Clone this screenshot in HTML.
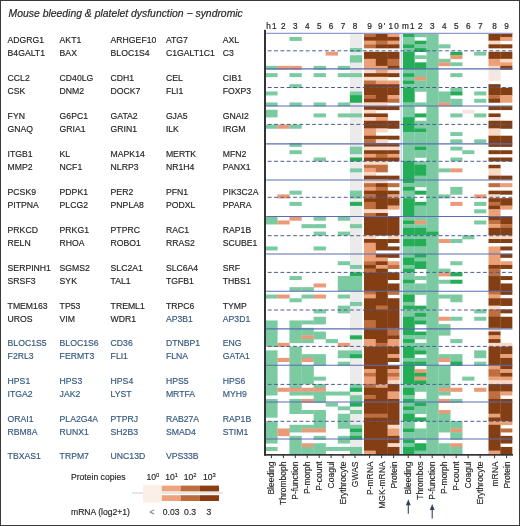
<!DOCTYPE html>
<html><head><meta charset="utf-8"><style>html,body{margin:0;padding:0;background:#fff;width:520px;height:526px;overflow:hidden}body{position:relative;font-family:"Liberation Sans",sans-serif}</style></head>
<body><svg xmlns="http://www.w3.org/2000/svg" width="520" height="526" viewBox="0 0 520 526" style="position:absolute;left:0;top:0;will-change:transform">
<rect x="0" y="0" width="520" height="526" fill="#fff"/>
<rect x="349.96" y="33.40" width="12.08" height="420.60" fill="#ebebeb"/><rect x="265.30" y="65.85" width="12.28" height="3.96" fill="#7bcaa2"/><rect x="265.30" y="73.17" width="12.28" height="3.96" fill="#7bcaa2"/><rect x="265.30" y="91.47" width="12.28" height="3.96" fill="#7bcaa2"/><rect x="265.30" y="102.45" width="12.28" height="3.96" fill="#7bcaa2"/><rect x="265.30" y="109.77" width="12.28" height="7.62" fill="#7bcaa2"/><rect x="265.30" y="124.60" width="12.28" height="4.15" fill="#7bcaa2"/><rect x="265.30" y="216.73" width="12.28" height="7.73" fill="#7bcaa2"/><rect x="265.30" y="246.45" width="12.28" height="4.00" fill="#7bcaa2"/><rect x="265.30" y="294.55" width="12.28" height="4.00" fill="#7bcaa2"/><rect x="265.30" y="320.45" width="12.28" height="26.47" fill="#7bcaa2"/><rect x="265.30" y="350.38" width="12.28" height="45.14" fill="#7bcaa2"/><rect x="265.30" y="398.95" width="12.28" height="18.75" fill="#7bcaa2"/><rect x="265.30" y="421.09" width="12.28" height="22.46" fill="#7bcaa2"/><rect x="265.30" y="446.95" width="12.28" height="4.00" fill="#7bcaa2"/><rect x="277.38" y="65.85" width="12.28" height="3.96" fill="#ea9a78"/><rect x="277.38" y="124.60" width="12.28" height="4.15" fill="#ea9a78"/><rect x="277.38" y="194.40" width="12.28" height="4.05" fill="#ea9a78"/><rect x="277.38" y="220.44" width="12.28" height="4.02" fill="#ea9a78"/><rect x="277.38" y="294.55" width="12.28" height="4.00" fill="#ea9a78"/><rect x="277.38" y="342.85" width="12.28" height="4.07" fill="#ea9a78"/><rect x="277.38" y="357.92" width="12.28" height="4.07" fill="#ea9a78"/><rect x="277.38" y="387.78" width="12.28" height="4.02" fill="#ea9a78"/><rect x="277.38" y="428.47" width="12.28" height="7.68" fill="#ea9a78"/><rect x="289.46" y="36.95" width="12.28" height="4.00" fill="#7bcaa2"/><rect x="289.46" y="65.85" width="12.28" height="3.96" fill="#ea9a78"/><rect x="289.46" y="73.17" width="12.28" height="3.96" fill="#7bcaa2"/><rect x="289.46" y="84.15" width="12.28" height="3.96" fill="#7bcaa2"/><rect x="289.46" y="102.45" width="12.28" height="3.96" fill="#7bcaa2"/><rect x="289.46" y="124.60" width="12.28" height="4.15" fill="#7bcaa2"/><rect x="289.46" y="142.97" width="12.28" height="3.93" fill="#7bcaa2"/><rect x="289.46" y="150.23" width="12.28" height="3.93" fill="#7bcaa2"/><rect x="289.46" y="190.65" width="12.28" height="4.05" fill="#7bcaa2"/><rect x="289.46" y="201.87" width="12.28" height="4.02" fill="#7bcaa2"/><rect x="289.46" y="216.73" width="12.28" height="4.02" fill="#ea9a78"/><rect x="289.46" y="276.05" width="12.28" height="4.00" fill="#7bcaa2"/><rect x="289.46" y="287.15" width="12.28" height="4.00" fill="#7bcaa2"/><rect x="289.46" y="298.25" width="12.28" height="4.00" fill="#7bcaa2"/><rect x="289.46" y="320.45" width="12.28" height="22.70" fill="#7bcaa2"/><rect x="289.46" y="346.62" width="12.28" height="41.47" fill="#7bcaa2"/><rect x="289.46" y="387.78" width="12.28" height="4.02" fill="#ea9a78"/><rect x="289.46" y="391.51" width="12.28" height="4.02" fill="#7bcaa2"/><rect x="289.46" y="398.95" width="12.28" height="15.06" fill="#7bcaa2"/><rect x="289.46" y="424.78" width="12.28" height="7.68" fill="#7bcaa2"/><rect x="289.46" y="435.85" width="12.28" height="18.80" fill="#7bcaa2"/><rect x="301.54" y="224.16" width="12.28" height="4.02" fill="#7bcaa2"/><rect x="301.54" y="287.15" width="12.28" height="4.00" fill="#7bcaa2"/><rect x="301.54" y="294.55" width="12.28" height="4.00" fill="#7bcaa2"/><rect x="301.54" y="320.45" width="12.28" height="4.00" fill="#7bcaa2"/><rect x="301.54" y="327.85" width="12.28" height="7.77" fill="#7bcaa2"/><rect x="301.54" y="335.32" width="12.28" height="4.07" fill="#ea9a78"/><rect x="301.54" y="339.08" width="12.28" height="4.07" fill="#7bcaa2"/><rect x="301.54" y="354.15" width="12.28" height="4.07" fill="#7bcaa2"/><rect x="301.54" y="357.92" width="12.28" height="4.07" fill="#ea9a78"/><rect x="301.54" y="365.45" width="12.28" height="18.91" fill="#7bcaa2"/><rect x="301.54" y="387.78" width="12.28" height="4.02" fill="#ea9a78"/><rect x="301.54" y="391.51" width="12.28" height="4.02" fill="#7bcaa2"/><rect x="301.54" y="398.95" width="12.28" height="3.99" fill="#ea9a78"/><rect x="301.54" y="410.02" width="12.28" height="3.99" fill="#7bcaa2"/><rect x="301.54" y="424.78" width="12.28" height="3.99" fill="#7bcaa2"/><rect x="301.54" y="428.47" width="12.28" height="3.99" fill="#ea9a78"/><rect x="301.54" y="443.25" width="12.28" height="4.00" fill="#ea9a78"/><rect x="301.54" y="446.95" width="12.28" height="7.70" fill="#7bcaa2"/><rect x="313.62" y="65.85" width="12.28" height="3.96" fill="#7bcaa2"/><rect x="313.62" y="73.17" width="12.28" height="3.96" fill="#7bcaa2"/><rect x="313.62" y="102.45" width="12.28" height="3.96" fill="#7bcaa2"/><rect x="313.62" y="113.43" width="12.28" height="3.96" fill="#7bcaa2"/><rect x="313.62" y="157.50" width="12.28" height="3.93" fill="#7bcaa2"/><rect x="313.62" y="216.73" width="12.28" height="4.02" fill="#7bcaa2"/><rect x="313.62" y="224.16" width="12.28" height="4.02" fill="#7bcaa2"/><rect x="313.62" y="231.59" width="12.28" height="4.02" fill="#7bcaa2"/><rect x="313.62" y="246.45" width="12.28" height="4.00" fill="#7bcaa2"/><rect x="313.62" y="283.45" width="12.28" height="4.00" fill="#ea9a78"/><rect x="313.62" y="294.55" width="12.28" height="4.00" fill="#ea9a78"/><rect x="313.62" y="309.35" width="12.28" height="4.00" fill="#7bcaa2"/><rect x="313.62" y="316.75" width="12.28" height="7.70" fill="#7bcaa2"/><rect x="313.62" y="331.55" width="12.28" height="7.83" fill="#7bcaa2"/><rect x="313.62" y="354.15" width="12.28" height="11.60" fill="#7bcaa2"/><rect x="313.62" y="376.62" width="12.28" height="4.02" fill="#7bcaa2"/><rect x="313.62" y="384.06" width="12.28" height="4.02" fill="#7bcaa2"/><rect x="313.62" y="387.78" width="12.28" height="4.02" fill="#ea9a78"/><rect x="313.62" y="391.51" width="12.28" height="11.43" fill="#7bcaa2"/><rect x="313.62" y="410.02" width="12.28" height="18.75" fill="#7bcaa2"/><rect x="313.62" y="428.47" width="12.28" height="3.99" fill="#ea9a78"/><rect x="313.62" y="435.85" width="12.28" height="4.00" fill="#7bcaa2"/><rect x="313.62" y="443.25" width="12.28" height="11.40" fill="#7bcaa2"/><rect x="325.70" y="51.75" width="12.28" height="3.82" fill="#ea9a78"/><rect x="325.70" y="339.08" width="12.28" height="4.07" fill="#7bcaa2"/><rect x="325.70" y="391.51" width="12.28" height="4.02" fill="#7bcaa2"/><rect x="325.70" y="402.64" width="12.28" height="3.99" fill="#7bcaa2"/><rect x="325.70" y="446.95" width="12.28" height="4.00" fill="#7bcaa2"/><rect x="337.78" y="65.85" width="12.28" height="3.96" fill="#7bcaa2"/><rect x="337.78" y="73.17" width="12.28" height="3.96" fill="#7bcaa2"/><rect x="337.78" y="102.45" width="12.28" height="3.96" fill="#7bcaa2"/><rect x="337.78" y="113.43" width="12.28" height="3.96" fill="#7bcaa2"/><rect x="337.78" y="216.73" width="12.28" height="4.02" fill="#7bcaa2"/><rect x="337.78" y="231.59" width="12.28" height="4.02" fill="#7bcaa2"/><rect x="337.78" y="261.25" width="12.28" height="4.00" fill="#7bcaa2"/><rect x="337.78" y="276.05" width="12.28" height="15.10" fill="#7bcaa2"/><rect x="337.78" y="294.55" width="12.28" height="4.00" fill="#7bcaa2"/><rect x="337.78" y="305.65" width="12.28" height="7.70" fill="#7bcaa2"/><rect x="337.78" y="342.85" width="12.28" height="4.07" fill="#ea9a78"/><rect x="337.78" y="350.38" width="12.28" height="7.83" fill="#7bcaa2"/><rect x="337.78" y="361.68" width="12.28" height="4.07" fill="#7bcaa2"/><rect x="337.78" y="391.51" width="12.28" height="4.02" fill="#7bcaa2"/><rect x="337.78" y="406.33" width="12.28" height="3.99" fill="#7bcaa2"/><rect x="337.78" y="413.71" width="12.28" height="15.06" fill="#7bcaa2"/><rect x="337.78" y="435.85" width="12.28" height="7.70" fill="#7bcaa2"/><rect x="337.78" y="446.95" width="12.28" height="4.00" fill="#7bcaa2"/><rect x="349.86" y="48.05" width="12.28" height="4.00" fill="#7bcaa2"/><rect x="349.86" y="55.27" width="12.28" height="7.35" fill="#7bcaa2"/><rect x="349.86" y="73.17" width="12.28" height="3.96" fill="#7bcaa2"/><rect x="349.86" y="91.47" width="12.28" height="3.96" fill="#7bcaa2"/><rect x="349.86" y="95.13" width="12.28" height="7.62" fill="#24ad57"/><rect x="349.86" y="113.43" width="12.28" height="3.96" fill="#7bcaa2"/><rect x="349.86" y="146.60" width="12.28" height="7.56" fill="#7bcaa2"/><rect x="349.86" y="157.50" width="12.28" height="3.93" fill="#24ad57"/><rect x="349.86" y="168.39" width="12.28" height="3.93" fill="#7bcaa2"/><rect x="349.86" y="190.65" width="12.28" height="7.80" fill="#7bcaa2"/><rect x="349.86" y="201.87" width="12.28" height="4.02" fill="#24ad57"/><rect x="349.86" y="224.16" width="12.28" height="4.02" fill="#7bcaa2"/><rect x="349.86" y="264.95" width="12.28" height="4.00" fill="#7bcaa2"/><rect x="349.86" y="272.35" width="12.28" height="4.00" fill="#24ad57"/><rect x="349.86" y="276.05" width="12.28" height="15.10" fill="#7bcaa2"/><rect x="349.86" y="301.95" width="12.28" height="4.00" fill="#7bcaa2"/><rect x="349.86" y="335.32" width="12.28" height="4.07" fill="#24ad57"/><rect x="349.86" y="350.38" width="12.28" height="4.07" fill="#7bcaa2"/><rect x="349.86" y="354.15" width="12.28" height="4.07" fill="#24ad57"/><rect x="349.86" y="384.06" width="12.28" height="4.02" fill="#7bcaa2"/><rect x="349.86" y="387.78" width="12.28" height="4.02" fill="#24ad57"/><rect x="349.86" y="395.23" width="12.28" height="7.71" fill="#7bcaa2"/><rect x="349.86" y="402.64" width="12.28" height="3.99" fill="#24ad57"/><rect x="349.86" y="410.02" width="12.28" height="3.99" fill="#7bcaa2"/><rect x="349.86" y="424.78" width="12.28" height="3.99" fill="#7bcaa2"/><rect x="349.86" y="428.47" width="12.28" height="3.99" fill="#24ad57"/><rect x="349.86" y="432.16" width="12.28" height="3.99" fill="#7bcaa2"/><rect x="349.86" y="435.85" width="12.28" height="4.00" fill="#24ad57"/><rect x="349.86" y="446.95" width="12.28" height="7.70" fill="#7bcaa2"/><rect x="364.00" y="33.25" width="12.03" height="4.00" fill="#bf6e3f"/><rect x="364.00" y="36.95" width="12.03" height="4.00" fill="#833e13"/><rect x="364.00" y="40.65" width="12.03" height="4.00" fill="#eca078"/><rect x="364.00" y="44.35" width="12.03" height="4.00" fill="#bf6e3f"/><rect x="364.00" y="51.75" width="12.03" height="7.35" fill="#833e13"/><rect x="364.00" y="58.80" width="12.03" height="11.01" fill="#eca078"/><rect x="364.00" y="69.51" width="12.03" height="3.96" fill="#f9d9c6"/><rect x="364.00" y="73.17" width="12.03" height="3.96" fill="#833e13"/><rect x="364.00" y="76.83" width="12.03" height="3.96" fill="#f9d9c6"/><rect x="364.00" y="80.49" width="12.03" height="3.96" fill="#bf6e3f"/><rect x="364.00" y="84.15" width="12.03" height="11.28" fill="#833e13"/><rect x="364.00" y="95.13" width="12.03" height="3.96" fill="#bf6e3f"/><rect x="364.00" y="98.79" width="12.03" height="3.96" fill="#833e13"/><rect x="364.00" y="102.45" width="12.03" height="3.96" fill="#f9d9c6"/><rect x="364.00" y="106.11" width="12.03" height="3.96" fill="#833e13"/><rect x="364.00" y="109.77" width="12.03" height="3.96" fill="#f9d9c6"/><rect x="364.00" y="113.43" width="12.03" height="3.96" fill="#833e13"/><rect x="364.00" y="117.09" width="12.03" height="3.96" fill="#f9d9c6"/><rect x="364.00" y="120.75" width="12.03" height="8.00" fill="#833e13"/><rect x="364.00" y="128.45" width="12.03" height="7.56" fill="#eca078"/><rect x="364.00" y="135.71" width="12.03" height="3.93" fill="#833e13"/><rect x="364.00" y="139.34" width="12.03" height="3.93" fill="#bf6e3f"/><rect x="364.00" y="142.97" width="12.03" height="3.93" fill="#833e13"/><rect x="364.00" y="146.60" width="12.03" height="3.93" fill="#f9d9c6"/><rect x="364.00" y="150.23" width="12.03" height="3.93" fill="#833e13"/><rect x="364.00" y="153.87" width="12.03" height="3.93" fill="#eca078"/><rect x="364.00" y="157.50" width="12.03" height="3.93" fill="#833e13"/><rect x="364.00" y="161.13" width="12.03" height="3.93" fill="#f9d9c6"/><rect x="364.00" y="164.76" width="12.03" height="3.93" fill="#bf6e3f"/><rect x="364.00" y="168.39" width="12.03" height="3.93" fill="#eca078"/><rect x="364.00" y="172.02" width="12.03" height="3.93" fill="#f9d9c6"/><rect x="364.00" y="175.65" width="12.03" height="4.05" fill="#833e13"/><rect x="364.00" y="179.40" width="12.03" height="4.05" fill="#f9d9c6"/><rect x="364.00" y="183.15" width="12.03" height="4.05" fill="#bf6e3f"/><rect x="364.00" y="186.90" width="12.03" height="4.05" fill="#eca078"/><rect x="364.00" y="190.65" width="12.03" height="4.05" fill="#833e13"/><rect x="364.00" y="194.40" width="12.03" height="4.05" fill="#bf6e3f"/><rect x="364.00" y="198.15" width="12.03" height="4.02" fill="#833e13"/><rect x="364.00" y="201.87" width="12.03" height="7.73" fill="#bf6e3f"/><rect x="364.00" y="209.30" width="12.03" height="4.02" fill="#f9d9c6"/><rect x="364.00" y="213.01" width="12.03" height="4.02" fill="#bf6e3f"/><rect x="364.00" y="216.73" width="12.03" height="18.88" fill="#833e13"/><rect x="364.00" y="235.30" width="12.03" height="4.02" fill="#f9d9c6"/><rect x="364.00" y="239.02" width="12.03" height="4.02" fill="#833e13"/><rect x="364.00" y="242.73" width="12.03" height="18.82" fill="#eca078"/><rect x="364.00" y="261.25" width="12.03" height="4.00" fill="#bf6e3f"/><rect x="364.00" y="264.95" width="12.03" height="4.00" fill="#833e13"/><rect x="364.00" y="268.65" width="12.03" height="4.00" fill="#bf6e3f"/><rect x="364.00" y="272.35" width="12.03" height="18.80" fill="#833e13"/><rect x="364.00" y="290.85" width="12.03" height="4.00" fill="#bf6e3f"/><rect x="364.00" y="294.55" width="12.03" height="4.00" fill="#eca078"/><rect x="364.00" y="298.25" width="12.03" height="22.50" fill="#833e13"/><rect x="364.00" y="320.45" width="12.03" height="7.70" fill="#bf6e3f"/><rect x="364.00" y="327.85" width="12.03" height="11.53" fill="#833e13"/><rect x="364.00" y="339.08" width="12.03" height="7.83" fill="#eca078"/><rect x="364.00" y="346.62" width="12.03" height="22.86" fill="#833e13"/><rect x="364.00" y="369.17" width="12.03" height="4.02" fill="#eca078"/><rect x="364.00" y="372.89" width="12.03" height="4.02" fill="#bf6e3f"/><rect x="364.00" y="376.62" width="12.03" height="7.74" fill="#eca078"/><rect x="364.00" y="384.06" width="12.03" height="4.02" fill="#bf6e3f"/><rect x="364.00" y="387.78" width="12.03" height="7.74" fill="#833e13"/><rect x="364.00" y="395.23" width="12.03" height="4.02" fill="#bf6e3f"/><rect x="364.00" y="398.95" width="12.03" height="15.06" fill="#833e13"/><rect x="364.00" y="413.71" width="12.03" height="3.99" fill="#bf6e3f"/><rect x="364.00" y="417.40" width="12.03" height="33.55" fill="#833e13"/><rect x="364.00" y="450.65" width="12.03" height="4.00" fill="#eca078"/><rect x="375.83" y="33.25" width="12.03" height="7.70" fill="#833e13"/><rect x="375.83" y="40.65" width="12.03" height="4.00" fill="#bf6e3f"/><rect x="375.83" y="44.35" width="12.03" height="4.00" fill="#833e13"/><rect x="375.83" y="51.75" width="12.03" height="14.40" fill="#833e13"/><rect x="375.83" y="65.85" width="12.03" height="7.62" fill="#eca078"/><rect x="375.83" y="73.17" width="12.03" height="3.96" fill="#833e13"/><rect x="375.83" y="76.83" width="12.03" height="3.96" fill="#f9d9c6"/><rect x="375.83" y="80.49" width="12.03" height="3.96" fill="#eca078"/><rect x="375.83" y="84.15" width="12.03" height="18.60" fill="#833e13"/><rect x="375.83" y="102.45" width="12.03" height="3.96" fill="#f9d9c6"/><rect x="375.83" y="106.11" width="12.03" height="3.96" fill="#833e13"/><rect x="375.83" y="113.43" width="12.03" height="3.96" fill="#833e13"/><rect x="375.83" y="117.09" width="12.03" height="3.96" fill="#eca078"/><rect x="375.83" y="120.75" width="12.03" height="8.00" fill="#833e13"/><rect x="375.83" y="128.45" width="12.03" height="3.93" fill="#f9d9c6"/><rect x="375.83" y="135.71" width="12.03" height="3.93" fill="#833e13"/><rect x="375.83" y="139.34" width="12.03" height="3.93" fill="#f9d9c6"/><rect x="375.83" y="142.97" width="12.03" height="3.93" fill="#833e13"/><rect x="375.83" y="146.60" width="12.03" height="3.93" fill="#f9d9c6"/><rect x="375.83" y="150.23" width="12.03" height="3.93" fill="#833e13"/><rect x="375.83" y="153.87" width="12.03" height="3.93" fill="#bf6e3f"/><rect x="375.83" y="157.50" width="12.03" height="3.93" fill="#833e13"/><rect x="375.83" y="161.13" width="12.03" height="3.93" fill="#f9d9c6"/><rect x="375.83" y="164.76" width="12.03" height="7.56" fill="#bf6e3f"/><rect x="375.83" y="175.65" width="12.03" height="4.05" fill="#833e13"/><rect x="375.83" y="179.40" width="12.03" height="4.05" fill="#f9d9c6"/><rect x="375.83" y="183.15" width="12.03" height="4.05" fill="#833e13"/><rect x="375.83" y="186.90" width="12.03" height="4.05" fill="#bf6e3f"/><rect x="375.83" y="190.65" width="12.03" height="18.95" fill="#833e13"/><rect x="375.83" y="209.30" width="12.03" height="4.02" fill="#f9d9c6"/><rect x="375.83" y="213.01" width="12.03" height="22.59" fill="#833e13"/><rect x="375.83" y="239.02" width="12.03" height="11.43" fill="#833e13"/><rect x="375.83" y="253.85" width="12.03" height="4.00" fill="#833e13"/><rect x="375.83" y="257.55" width="12.03" height="4.00" fill="#eca078"/><rect x="375.83" y="261.25" width="12.03" height="4.00" fill="#833e13"/><rect x="375.83" y="264.95" width="12.03" height="4.00" fill="#eca078"/><rect x="375.83" y="268.65" width="12.03" height="37.30" fill="#833e13"/><rect x="375.83" y="305.65" width="12.03" height="4.00" fill="#bf6e3f"/><rect x="375.83" y="309.35" width="12.03" height="33.80" fill="#833e13"/><rect x="375.83" y="342.85" width="12.03" height="4.07" fill="#bf6e3f"/><rect x="375.83" y="346.62" width="12.03" height="37.74" fill="#833e13"/><rect x="375.83" y="384.06" width="12.03" height="4.02" fill="#eca078"/><rect x="375.83" y="387.78" width="12.03" height="26.23" fill="#833e13"/><rect x="375.83" y="413.71" width="12.03" height="3.99" fill="#bf6e3f"/><rect x="375.83" y="417.40" width="12.03" height="37.25" fill="#833e13"/><rect x="387.66" y="33.25" width="12.03" height="4.00" fill="#eca078"/><rect x="387.66" y="36.95" width="12.03" height="4.00" fill="#833e13"/><rect x="387.66" y="40.65" width="12.03" height="4.00" fill="#eca078"/><rect x="387.66" y="44.35" width="12.03" height="4.00" fill="#833e13"/><rect x="387.66" y="51.75" width="12.03" height="7.35" fill="#833e13"/><rect x="387.66" y="58.80" width="12.03" height="7.35" fill="#bf6e3f"/><rect x="387.66" y="65.85" width="12.03" height="3.96" fill="#833e13"/><rect x="387.66" y="69.51" width="12.03" height="3.96" fill="#f9d9c6"/><rect x="387.66" y="73.17" width="12.03" height="3.96" fill="#833e13"/><rect x="387.66" y="80.49" width="12.03" height="3.96" fill="#eca078"/><rect x="387.66" y="84.15" width="12.03" height="11.28" fill="#833e13"/><rect x="387.66" y="95.13" width="12.03" height="3.96" fill="#eca078"/><rect x="387.66" y="98.79" width="12.03" height="3.96" fill="#bf6e3f"/><rect x="387.66" y="106.11" width="12.03" height="3.96" fill="#833e13"/><rect x="387.66" y="120.75" width="12.03" height="8.00" fill="#833e13"/><rect x="387.66" y="135.71" width="12.03" height="3.93" fill="#833e13"/><rect x="387.66" y="142.97" width="12.03" height="3.93" fill="#833e13"/><rect x="387.66" y="146.60" width="12.03" height="3.93" fill="#f9d9c6"/><rect x="387.66" y="150.23" width="12.03" height="3.93" fill="#833e13"/><rect x="387.66" y="153.87" width="12.03" height="3.93" fill="#eca078"/><rect x="387.66" y="157.50" width="12.03" height="3.93" fill="#833e13"/><rect x="387.66" y="175.65" width="12.03" height="4.05" fill="#833e13"/><rect x="387.66" y="183.15" width="12.03" height="4.05" fill="#bf6e3f"/><rect x="387.66" y="190.65" width="12.03" height="4.05" fill="#833e13"/><rect x="387.66" y="194.40" width="12.03" height="4.05" fill="#eca078"/><rect x="387.66" y="198.15" width="12.03" height="7.73" fill="#833e13"/><rect x="387.66" y="205.58" width="12.03" height="4.02" fill="#eca078"/><rect x="387.66" y="216.73" width="12.03" height="18.88" fill="#833e13"/><rect x="387.66" y="235.30" width="12.03" height="4.02" fill="#f9d9c6"/><rect x="387.66" y="239.02" width="12.03" height="4.02" fill="#833e13"/><rect x="387.66" y="246.45" width="12.03" height="4.00" fill="#833e13"/><rect x="387.66" y="253.85" width="12.03" height="4.00" fill="#833e13"/><rect x="387.66" y="261.25" width="12.03" height="4.00" fill="#eca078"/><rect x="387.66" y="264.95" width="12.03" height="4.00" fill="#bf6e3f"/><rect x="387.66" y="272.35" width="12.03" height="7.70" fill="#833e13"/><rect x="387.66" y="283.45" width="12.03" height="7.70" fill="#833e13"/><rect x="387.66" y="290.85" width="12.03" height="4.00" fill="#bf6e3f"/><rect x="387.66" y="298.25" width="12.03" height="29.90" fill="#833e13"/><rect x="387.66" y="327.85" width="12.03" height="7.77" fill="#bf6e3f"/><rect x="387.66" y="335.32" width="12.03" height="4.07" fill="#833e13"/><rect x="387.66" y="339.08" width="12.03" height="7.83" fill="#eca078"/><rect x="387.66" y="346.62" width="12.03" height="7.83" fill="#833e13"/><rect x="387.66" y="354.15" width="12.03" height="4.07" fill="#eca078"/><rect x="387.66" y="357.92" width="12.03" height="4.07" fill="#833e13"/><rect x="387.66" y="365.45" width="12.03" height="4.02" fill="#833e13"/><rect x="387.66" y="369.17" width="12.03" height="4.02" fill="#eca078"/><rect x="387.66" y="372.89" width="12.03" height="4.02" fill="#bf6e3f"/><rect x="387.66" y="376.62" width="12.03" height="4.02" fill="#eca078"/><rect x="387.66" y="380.34" width="12.03" height="4.02" fill="#f9d9c6"/><rect x="387.66" y="384.06" width="12.03" height="7.74" fill="#833e13"/><rect x="387.66" y="391.51" width="12.03" height="7.74" fill="#eca078"/><rect x="387.66" y="398.95" width="12.03" height="26.13" fill="#833e13"/><rect x="387.66" y="424.78" width="12.03" height="3.99" fill="#f9d9c6"/><rect x="387.66" y="428.47" width="12.03" height="7.68" fill="#eca078"/><rect x="387.66" y="435.85" width="12.03" height="7.70" fill="#833e13"/><rect x="387.66" y="443.25" width="12.03" height="4.00" fill="#f9d9c6"/><rect x="387.66" y="446.95" width="12.03" height="7.70" fill="#833e13"/><rect x="402.60" y="33.25" width="12.13" height="4.00" fill="#24ad57"/><rect x="402.60" y="36.95" width="12.13" height="7.70" fill="#7bcaa2"/><rect x="402.60" y="44.35" width="12.13" height="4.00" fill="#24ad57"/><rect x="402.60" y="48.05" width="12.13" height="4.00" fill="#7bcaa2"/><rect x="402.60" y="51.75" width="12.13" height="18.06" fill="#24ad57"/><rect x="402.60" y="69.51" width="12.13" height="3.96" fill="#7bcaa2"/><rect x="402.60" y="73.17" width="12.13" height="3.96" fill="#24ad57"/><rect x="402.60" y="76.83" width="12.13" height="3.96" fill="#7bcaa2"/><rect x="402.60" y="80.49" width="12.13" height="3.96" fill="#24ad57"/><rect x="402.60" y="84.15" width="12.13" height="3.96" fill="#7bcaa2"/><rect x="402.60" y="87.81" width="12.13" height="14.94" fill="#24ad57"/><rect x="402.60" y="102.45" width="12.13" height="14.94" fill="#7bcaa2"/><rect x="402.60" y="117.09" width="12.13" height="15.29" fill="#24ad57"/><rect x="402.60" y="132.08" width="12.13" height="29.35" fill="#7bcaa2"/><rect x="402.60" y="161.13" width="12.13" height="22.32" fill="#24ad57"/><rect x="402.60" y="183.15" width="12.13" height="4.05" fill="#7bcaa2"/><rect x="402.60" y="186.90" width="12.13" height="4.05" fill="#24ad57"/><rect x="402.60" y="190.65" width="12.13" height="7.80" fill="#7bcaa2"/><rect x="402.60" y="198.15" width="12.13" height="18.88" fill="#24ad57"/><rect x="402.60" y="216.73" width="12.13" height="4.02" fill="#7bcaa2"/><rect x="402.60" y="220.44" width="12.13" height="4.02" fill="#24ad57"/><rect x="402.60" y="224.16" width="12.13" height="4.02" fill="#7bcaa2"/><rect x="402.60" y="227.87" width="12.13" height="7.73" fill="#24ad57"/><rect x="402.60" y="235.30" width="12.13" height="4.02" fill="#7bcaa2"/><rect x="402.60" y="239.02" width="12.13" height="7.73" fill="#24ad57"/><rect x="402.60" y="246.45" width="12.13" height="11.40" fill="#7bcaa2"/><rect x="402.60" y="257.55" width="12.13" height="7.70" fill="#24ad57"/><rect x="402.60" y="264.95" width="12.13" height="4.00" fill="#7bcaa2"/><rect x="402.60" y="268.65" width="12.13" height="4.00" fill="#24ad57"/><rect x="402.60" y="272.35" width="12.13" height="7.70" fill="#7bcaa2"/><rect x="402.60" y="279.75" width="12.13" height="4.00" fill="#24ad57"/><rect x="402.60" y="283.45" width="12.13" height="11.40" fill="#7bcaa2"/><rect x="402.60" y="294.55" width="12.13" height="7.70" fill="#24ad57"/><rect x="402.60" y="301.95" width="12.13" height="4.00" fill="#7bcaa2"/><rect x="402.60" y="305.65" width="12.13" height="4.00" fill="#24ad57"/><rect x="402.60" y="309.35" width="12.13" height="7.70" fill="#7bcaa2"/><rect x="402.60" y="316.75" width="12.13" height="18.87" fill="#24ad57"/><rect x="402.60" y="335.32" width="12.13" height="4.07" fill="#7bcaa2"/><rect x="402.60" y="339.08" width="12.13" height="4.07" fill="#24ad57"/><rect x="402.60" y="342.85" width="12.13" height="4.07" fill="#7bcaa2"/><rect x="402.60" y="346.62" width="12.13" height="11.60" fill="#24ad57"/><rect x="402.60" y="357.92" width="12.13" height="4.07" fill="#7bcaa2"/><rect x="402.60" y="361.68" width="12.13" height="22.68" fill="#24ad57"/><rect x="402.60" y="384.06" width="12.13" height="4.02" fill="#7bcaa2"/><rect x="402.60" y="387.78" width="12.13" height="7.74" fill="#24ad57"/><rect x="402.60" y="395.23" width="12.13" height="4.02" fill="#7bcaa2"/><rect x="402.60" y="398.95" width="12.13" height="3.99" fill="#24ad57"/><rect x="402.60" y="402.64" width="12.13" height="3.99" fill="#7bcaa2"/><rect x="402.60" y="406.33" width="12.13" height="3.99" fill="#24ad57"/><rect x="402.60" y="410.02" width="12.13" height="3.99" fill="#7bcaa2"/><rect x="402.60" y="413.71" width="12.13" height="7.68" fill="#24ad57"/><rect x="402.60" y="421.09" width="12.13" height="7.68" fill="#7bcaa2"/><rect x="402.60" y="428.47" width="12.13" height="3.99" fill="#24ad57"/><rect x="402.60" y="432.16" width="12.13" height="7.69" fill="#7bcaa2"/><rect x="402.60" y="439.55" width="12.13" height="4.00" fill="#24ad57"/><rect x="402.60" y="443.25" width="12.13" height="4.00" fill="#7bcaa2"/><rect x="402.60" y="446.95" width="12.13" height="7.70" fill="#24ad57"/><rect x="414.53" y="33.25" width="12.13" height="4.00" fill="#7bcaa2"/><rect x="414.53" y="40.65" width="12.13" height="4.00" fill="#24ad57"/><rect x="414.53" y="44.35" width="12.13" height="4.00" fill="#7bcaa2"/><rect x="414.53" y="48.05" width="12.13" height="4.00" fill="#24ad57"/><rect x="414.53" y="55.27" width="12.13" height="3.83" fill="#7bcaa2"/><rect x="414.53" y="62.33" width="12.13" height="7.48" fill="#24ad57"/><rect x="414.53" y="69.51" width="12.13" height="7.62" fill="#7bcaa2"/><rect x="414.53" y="76.83" width="12.13" height="3.96" fill="#ea9a78"/><rect x="414.53" y="80.49" width="12.13" height="11.28" fill="#7bcaa2"/><rect x="414.53" y="102.45" width="12.13" height="3.96" fill="#7bcaa2"/><rect x="414.53" y="113.43" width="12.13" height="3.96" fill="#24ad57"/><rect x="414.53" y="120.75" width="12.13" height="8.00" fill="#7bcaa2"/><rect x="414.53" y="128.45" width="12.13" height="3.93" fill="#24ad57"/><rect x="414.53" y="132.08" width="12.13" height="14.82" fill="#7bcaa2"/><rect x="414.53" y="146.60" width="12.13" height="3.93" fill="#24ad57"/><rect x="414.53" y="150.23" width="12.13" height="7.56" fill="#7bcaa2"/><rect x="414.53" y="161.13" width="12.13" height="3.93" fill="#7bcaa2"/><rect x="414.53" y="164.76" width="12.13" height="11.19" fill="#24ad57"/><rect x="414.53" y="175.65" width="12.13" height="11.55" fill="#7bcaa2"/><rect x="414.53" y="190.65" width="12.13" height="4.05" fill="#24ad57"/><rect x="414.53" y="201.87" width="12.13" height="4.02" fill="#24ad57"/><rect x="414.53" y="205.58" width="12.13" height="15.16" fill="#7bcaa2"/><rect x="414.53" y="220.44" width="12.13" height="4.02" fill="#ea9a78"/><rect x="414.53" y="224.16" width="12.13" height="4.02" fill="#7bcaa2"/><rect x="414.53" y="227.87" width="12.13" height="7.73" fill="#24ad57"/><rect x="414.53" y="235.30" width="12.13" height="4.02" fill="#7bcaa2"/><rect x="414.53" y="239.02" width="12.13" height="7.73" fill="#24ad57"/><rect x="414.53" y="246.45" width="12.13" height="7.70" fill="#7bcaa2"/><rect x="414.53" y="253.85" width="12.13" height="4.00" fill="#24ad57"/><rect x="414.53" y="257.55" width="12.13" height="4.00" fill="#7bcaa2"/><rect x="414.53" y="261.25" width="12.13" height="7.70" fill="#24ad57"/><rect x="414.53" y="276.05" width="12.13" height="4.00" fill="#7bcaa2"/><rect x="414.53" y="283.45" width="12.13" height="11.40" fill="#7bcaa2"/><rect x="414.53" y="305.65" width="12.13" height="4.00" fill="#24ad57"/><rect x="414.53" y="309.35" width="12.13" height="4.00" fill="#7bcaa2"/><rect x="414.53" y="313.05" width="12.13" height="4.00" fill="#24ad57"/><rect x="414.53" y="316.75" width="12.13" height="4.00" fill="#7bcaa2"/><rect x="414.53" y="320.45" width="12.13" height="4.00" fill="#24ad57"/><rect x="414.53" y="331.55" width="12.13" height="4.07" fill="#24ad57"/><rect x="414.53" y="335.32" width="12.13" height="4.07" fill="#7bcaa2"/><rect x="414.53" y="342.85" width="12.13" height="7.83" fill="#7bcaa2"/><rect x="414.53" y="350.38" width="12.13" height="4.07" fill="#24ad57"/><rect x="414.53" y="357.92" width="12.13" height="4.07" fill="#7bcaa2"/><rect x="414.53" y="361.68" width="12.13" height="4.07" fill="#24ad57"/><rect x="414.53" y="369.17" width="12.13" height="4.02" fill="#ea9a78"/><rect x="414.53" y="372.89" width="12.13" height="4.02" fill="#24ad57"/><rect x="414.53" y="376.62" width="12.13" height="4.02" fill="#ea9a78"/><rect x="414.53" y="380.34" width="12.13" height="4.02" fill="#24ad57"/><rect x="414.53" y="384.06" width="12.13" height="7.74" fill="#7bcaa2"/><rect x="414.53" y="398.95" width="12.13" height="3.99" fill="#7bcaa2"/><rect x="414.53" y="402.64" width="12.13" height="3.99" fill="#24ad57"/><rect x="414.53" y="406.33" width="12.13" height="7.68" fill="#7bcaa2"/><rect x="414.53" y="417.40" width="12.13" height="3.99" fill="#24ad57"/><rect x="414.53" y="428.47" width="12.13" height="11.38" fill="#7bcaa2"/><rect x="414.53" y="443.25" width="12.13" height="7.70" fill="#24ad57"/><rect x="414.53" y="450.65" width="12.13" height="4.00" fill="#7bcaa2"/><rect x="426.46" y="33.25" width="12.13" height="198.64" fill="#7bcaa2"/><rect x="426.46" y="231.59" width="12.13" height="4.02" fill="#24ad57"/><rect x="426.46" y="235.30" width="12.13" height="219.35" fill="#7bcaa2"/><rect x="438.39" y="44.35" width="12.13" height="4.00" fill="#7bcaa2"/><rect x="438.39" y="58.80" width="12.13" height="3.82" fill="#7bcaa2"/><rect x="438.39" y="62.33" width="12.13" height="3.82" fill="#ea9a78"/><rect x="438.39" y="91.47" width="12.13" height="11.28" fill="#7bcaa2"/><rect x="438.39" y="102.45" width="12.13" height="3.96" fill="#ea9a78"/><rect x="438.39" y="168.39" width="12.13" height="3.93" fill="#7bcaa2"/><rect x="438.39" y="194.40" width="12.13" height="4.05" fill="#7bcaa2"/><rect x="438.39" y="239.02" width="12.13" height="4.02" fill="#ea9a78"/><rect x="438.39" y="268.65" width="12.13" height="4.00" fill="#7bcaa2"/><rect x="438.39" y="272.35" width="12.13" height="4.00" fill="#ea9a78"/><rect x="438.39" y="279.75" width="12.13" height="4.00" fill="#7bcaa2"/><rect x="438.39" y="294.55" width="12.13" height="4.00" fill="#7bcaa2"/><rect x="438.39" y="316.75" width="12.13" height="4.00" fill="#ea9a78"/><rect x="438.39" y="324.15" width="12.13" height="11.47" fill="#7bcaa2"/><rect x="438.39" y="354.15" width="12.13" height="4.07" fill="#7bcaa2"/><rect x="438.39" y="357.92" width="12.13" height="4.07" fill="#ea9a78"/><rect x="438.39" y="365.45" width="12.13" height="22.63" fill="#7bcaa2"/><rect x="438.39" y="387.78" width="12.13" height="4.02" fill="#ea9a78"/><rect x="438.39" y="391.51" width="12.13" height="4.02" fill="#7bcaa2"/><rect x="438.39" y="398.95" width="12.13" height="3.99" fill="#ea9a78"/><rect x="438.39" y="410.02" width="12.13" height="3.99" fill="#ea9a78"/><rect x="438.39" y="413.71" width="12.13" height="18.75" fill="#7bcaa2"/><rect x="438.39" y="443.25" width="12.13" height="11.40" fill="#7bcaa2"/><rect x="450.32" y="51.75" width="12.13" height="3.82" fill="#24ad57"/><rect x="450.32" y="55.27" width="12.13" height="3.83" fill="#ea9a78"/><rect x="450.32" y="62.33" width="12.13" height="3.82" fill="#7bcaa2"/><rect x="450.32" y="73.17" width="12.13" height="3.96" fill="#7bcaa2"/><rect x="450.32" y="87.81" width="12.13" height="3.96" fill="#7bcaa2"/><rect x="450.32" y="91.47" width="12.13" height="3.96" fill="#24ad57"/><rect x="450.32" y="98.79" width="12.13" height="7.62" fill="#7bcaa2"/><rect x="450.32" y="113.43" width="12.13" height="3.96" fill="#7bcaa2"/><rect x="450.32" y="132.08" width="12.13" height="3.93" fill="#7bcaa2"/><rect x="450.32" y="139.34" width="12.13" height="3.93" fill="#7bcaa2"/><rect x="450.32" y="146.60" width="12.13" height="3.93" fill="#7bcaa2"/><rect x="450.32" y="157.50" width="12.13" height="3.93" fill="#7bcaa2"/><rect x="450.32" y="168.39" width="12.13" height="3.93" fill="#ea9a78"/><rect x="450.32" y="186.90" width="12.13" height="7.80" fill="#7bcaa2"/><rect x="450.32" y="201.87" width="12.13" height="4.02" fill="#ea9a78"/><rect x="450.32" y="239.02" width="12.13" height="4.02" fill="#7bcaa2"/><rect x="450.32" y="261.25" width="12.13" height="4.00" fill="#7bcaa2"/><rect x="450.32" y="272.35" width="12.13" height="4.00" fill="#24ad57"/><rect x="450.32" y="279.75" width="12.13" height="4.00" fill="#24ad57"/><rect x="450.32" y="294.55" width="12.13" height="7.70" fill="#7bcaa2"/><rect x="450.32" y="316.75" width="12.13" height="4.00" fill="#7bcaa2"/><rect x="450.32" y="339.08" width="12.13" height="4.07" fill="#7bcaa2"/><rect x="450.32" y="354.15" width="12.13" height="7.83" fill="#7bcaa2"/><rect x="450.32" y="361.68" width="12.13" height="4.07" fill="#24ad57"/><rect x="450.32" y="387.78" width="12.13" height="4.02" fill="#ea9a78"/><rect x="450.32" y="398.95" width="12.13" height="3.99" fill="#7bcaa2"/><rect x="450.32" y="421.09" width="12.13" height="7.68" fill="#7bcaa2"/><rect x="450.32" y="428.47" width="12.13" height="3.99" fill="#ea9a78"/><rect x="450.32" y="432.16" width="12.13" height="7.69" fill="#7bcaa2"/><rect x="450.32" y="443.25" width="12.13" height="4.00" fill="#ea9a78"/><rect x="450.32" y="446.95" width="12.13" height="7.70" fill="#7bcaa2"/><rect x="462.25" y="109.77" width="12.13" height="3.96" fill="#f6e4e0"/><rect x="462.25" y="150.23" width="12.13" height="3.93" fill="#7bcaa2"/><rect x="462.25" y="235.30" width="12.13" height="4.02" fill="#7bcaa2"/><rect x="462.25" y="376.62" width="12.13" height="4.02" fill="#7bcaa2"/><rect x="474.18" y="51.75" width="12.13" height="3.82" fill="#7bcaa2"/><rect x="474.18" y="91.47" width="12.13" height="3.96" fill="#7bcaa2"/><rect x="474.18" y="98.79" width="12.13" height="3.96" fill="#7bcaa2"/><rect x="474.18" y="113.43" width="12.13" height="3.96" fill="#7bcaa2"/><rect x="474.18" y="139.34" width="12.13" height="3.93" fill="#7bcaa2"/><rect x="474.18" y="194.40" width="12.13" height="4.05" fill="#ea9a78"/><rect x="474.18" y="201.87" width="12.13" height="4.02" fill="#7bcaa2"/><rect x="474.18" y="209.30" width="12.13" height="4.02" fill="#7bcaa2"/><rect x="474.18" y="220.44" width="12.13" height="4.02" fill="#7bcaa2"/><rect x="474.18" y="309.35" width="12.13" height="4.00" fill="#7bcaa2"/><rect x="474.18" y="316.75" width="12.13" height="4.00" fill="#7bcaa2"/><rect x="474.18" y="350.38" width="12.13" height="7.83" fill="#7bcaa2"/><rect x="474.18" y="361.68" width="12.13" height="4.07" fill="#7bcaa2"/><rect x="474.18" y="387.78" width="12.13" height="4.02" fill="#ea9a78"/><rect x="488.50" y="33.25" width="12.05" height="7.70" fill="#833e13"/><rect x="488.50" y="40.65" width="12.05" height="4.00" fill="#f9d9c6"/><rect x="488.50" y="44.35" width="12.05" height="4.00" fill="#833e13"/><rect x="488.50" y="51.75" width="12.05" height="7.35" fill="#833e13"/><rect x="488.50" y="58.80" width="12.05" height="7.35" fill="#eca078"/><rect x="488.50" y="65.85" width="12.05" height="3.96" fill="#f9d9c6"/><rect x="488.50" y="69.51" width="12.05" height="11.28" fill="#f4e6e0"/><rect x="488.50" y="84.15" width="12.05" height="11.28" fill="#833e13"/><rect x="488.50" y="95.13" width="12.05" height="3.96" fill="#bf6e3f"/><rect x="488.50" y="98.79" width="12.05" height="3.96" fill="#833e13"/><rect x="488.50" y="106.11" width="12.05" height="3.96" fill="#833e13"/><rect x="488.50" y="113.43" width="12.05" height="3.96" fill="#833e13"/><rect x="488.50" y="117.09" width="12.05" height="3.96" fill="#f4e6e0"/><rect x="488.50" y="120.75" width="12.05" height="8.00" fill="#833e13"/><rect x="488.50" y="128.45" width="12.05" height="7.56" fill="#f9d9c6"/><rect x="488.50" y="135.71" width="12.05" height="11.19" fill="#833e13"/><rect x="488.50" y="150.23" width="12.05" height="3.93" fill="#833e13"/><rect x="488.50" y="157.50" width="12.05" height="3.93" fill="#833e13"/><rect x="488.50" y="164.76" width="12.05" height="3.93" fill="#833e13"/><rect x="488.50" y="168.39" width="12.05" height="7.56" fill="#f9d9c6"/><rect x="488.50" y="175.65" width="12.05" height="4.05" fill="#833e13"/><rect x="488.50" y="183.15" width="12.05" height="4.05" fill="#bf6e3f"/><rect x="488.50" y="190.65" width="12.05" height="4.05" fill="#833e13"/><rect x="488.50" y="194.40" width="12.05" height="4.05" fill="#f9d9c6"/><rect x="488.50" y="198.15" width="12.05" height="4.02" fill="#833e13"/><rect x="488.50" y="201.87" width="12.05" height="4.02" fill="#bf6e3f"/><rect x="488.50" y="205.58" width="12.05" height="4.02" fill="#833e13"/><rect x="488.50" y="209.30" width="12.05" height="7.73" fill="#eca078"/><rect x="488.50" y="216.73" width="12.05" height="4.02" fill="#833e13"/><rect x="488.50" y="220.44" width="12.05" height="4.02" fill="#bf6e3f"/><rect x="488.50" y="224.16" width="12.05" height="4.02" fill="#eca078"/><rect x="488.50" y="227.87" width="12.05" height="7.73" fill="#833e13"/><rect x="488.50" y="235.30" width="12.05" height="4.02" fill="#f9d9c6"/><rect x="488.50" y="239.02" width="12.05" height="4.02" fill="#833e13"/><rect x="488.50" y="246.45" width="12.05" height="18.80" fill="#eca078"/><rect x="488.50" y="264.95" width="12.05" height="4.00" fill="#833e13"/><rect x="488.50" y="268.65" width="12.05" height="7.70" fill="#bf6e3f"/><rect x="488.50" y="276.05" width="12.05" height="15.10" fill="#833e13"/><rect x="488.50" y="290.85" width="12.05" height="4.00" fill="#bf6e3f"/><rect x="488.50" y="294.55" width="12.05" height="4.00" fill="#eca078"/><rect x="488.50" y="298.25" width="12.05" height="7.70" fill="#833e13"/><rect x="488.50" y="305.65" width="12.05" height="4.00" fill="#f9d9c6"/><rect x="488.50" y="309.35" width="12.05" height="7.70" fill="#bf6e3f"/><rect x="488.50" y="316.75" width="12.05" height="11.40" fill="#833e13"/><rect x="488.50" y="327.85" width="12.05" height="4.00" fill="#f9d9c6"/><rect x="488.50" y="331.55" width="12.05" height="4.07" fill="#833e13"/><rect x="488.50" y="335.32" width="12.05" height="4.07" fill="#eca078"/><rect x="488.50" y="339.08" width="12.05" height="4.07" fill="#833e13"/><rect x="488.50" y="342.85" width="12.05" height="4.07" fill="#f9d9c6"/><rect x="488.50" y="346.62" width="12.05" height="19.13" fill="#833e13"/><rect x="488.50" y="365.45" width="12.05" height="4.02" fill="#eca078"/><rect x="488.50" y="369.17" width="12.05" height="7.74" fill="#bf6e3f"/><rect x="488.50" y="376.62" width="12.05" height="4.02" fill="#eca078"/><rect x="488.50" y="380.34" width="12.05" height="4.02" fill="#f9d9c6"/><rect x="488.50" y="384.06" width="12.05" height="7.74" fill="#833e13"/><rect x="488.50" y="391.51" width="12.05" height="7.74" fill="#bf6e3f"/><rect x="488.50" y="398.95" width="12.05" height="15.06" fill="#833e13"/><rect x="488.50" y="413.71" width="12.05" height="3.99" fill="#eca078"/><rect x="488.50" y="417.40" width="12.05" height="3.99" fill="#833e13"/><rect x="488.50" y="421.09" width="12.05" height="3.99" fill="#eca078"/><rect x="488.50" y="424.78" width="12.05" height="26.17" fill="#833e13"/><rect x="488.50" y="450.65" width="12.05" height="4.00" fill="#eca078"/><rect x="500.30" y="33.25" width="12.05" height="4.00" fill="#833e13"/><rect x="500.30" y="36.95" width="12.05" height="4.00" fill="#eca078"/><rect x="500.30" y="44.35" width="12.05" height="4.00" fill="#833e13"/><rect x="500.30" y="51.75" width="12.05" height="7.35" fill="#833e13"/><rect x="500.30" y="58.80" width="12.05" height="3.82" fill="#f9d9c6"/><rect x="500.30" y="62.33" width="12.05" height="3.82" fill="#eca078"/><rect x="500.30" y="65.85" width="12.05" height="3.96" fill="#833e13"/><rect x="500.30" y="87.81" width="12.05" height="7.62" fill="#833e13"/><rect x="500.30" y="95.13" width="12.05" height="7.62" fill="#eca078"/><rect x="500.30" y="106.11" width="12.05" height="3.96" fill="#833e13"/><rect x="500.30" y="120.75" width="12.05" height="8.00" fill="#833e13"/><rect x="500.30" y="135.71" width="12.05" height="11.19" fill="#833e13"/><rect x="500.30" y="150.23" width="12.05" height="3.93" fill="#833e13"/><rect x="500.30" y="157.50" width="12.05" height="3.93" fill="#833e13"/><rect x="500.30" y="175.65" width="12.05" height="4.05" fill="#833e13"/><rect x="500.30" y="183.15" width="12.05" height="4.05" fill="#eca078"/><rect x="500.30" y="190.65" width="12.05" height="4.05" fill="#833e13"/><rect x="500.30" y="198.15" width="12.05" height="7.73" fill="#833e13"/><rect x="500.30" y="205.58" width="12.05" height="4.02" fill="#eca078"/><rect x="500.30" y="216.73" width="12.05" height="7.73" fill="#833e13"/><rect x="500.30" y="224.16" width="12.05" height="4.02" fill="#bf6e3f"/><rect x="500.30" y="227.87" width="12.05" height="7.73" fill="#833e13"/><rect x="500.30" y="235.30" width="12.05" height="4.02" fill="#f9d9c6"/><rect x="500.30" y="239.02" width="12.05" height="4.02" fill="#833e13"/><rect x="500.30" y="246.45" width="12.05" height="4.00" fill="#833e13"/><rect x="500.30" y="253.85" width="12.05" height="4.00" fill="#833e13"/><rect x="500.30" y="261.25" width="12.05" height="4.00" fill="#eca078"/><rect x="500.30" y="264.95" width="12.05" height="4.00" fill="#833e13"/><rect x="500.30" y="276.05" width="12.05" height="4.00" fill="#833e13"/><rect x="500.30" y="283.45" width="12.05" height="11.40" fill="#833e13"/><rect x="500.30" y="298.25" width="12.05" height="7.70" fill="#833e13"/><rect x="500.30" y="309.35" width="12.05" height="4.00" fill="#833e13"/><rect x="500.30" y="316.75" width="12.05" height="11.40" fill="#833e13"/><rect x="500.30" y="342.85" width="12.05" height="4.07" fill="#f9d9c6"/><rect x="500.30" y="346.62" width="12.05" height="7.83" fill="#833e13"/><rect x="500.30" y="354.15" width="12.05" height="4.07" fill="#eca078"/><rect x="500.30" y="357.92" width="12.05" height="11.56" fill="#833e13"/><rect x="500.30" y="369.17" width="12.05" height="4.02" fill="#eca078"/><rect x="500.30" y="372.89" width="12.05" height="4.02" fill="#833e13"/><rect x="500.30" y="376.62" width="12.05" height="4.02" fill="#eca078"/><rect x="500.30" y="380.34" width="12.05" height="4.02" fill="#f9d9c6"/><rect x="500.30" y="384.06" width="12.05" height="7.74" fill="#833e13"/><rect x="500.30" y="391.51" width="12.05" height="4.02" fill="#eca078"/><rect x="500.30" y="398.95" width="12.05" height="22.44" fill="#833e13"/><rect x="500.30" y="421.09" width="12.05" height="3.99" fill="#eca078"/><rect x="500.30" y="428.47" width="12.05" height="3.99" fill="#bf6e3f"/><rect x="500.30" y="435.85" width="12.05" height="7.70" fill="#833e13"/><rect x="500.30" y="446.95" width="12.05" height="7.70" fill="#833e13"/><rect x="399.70" y="33.40" width="3.00" height="420.60" fill="#ffffff"/><rect x="400.50" y="33.40" width="1.40" height="420.60" fill="#c9d3f1"/>
<line x1="266.2" y1="33.40" x2="512.4" y2="33.40" stroke="#8e9acb" stroke-width="1.15"/><line x1="267.8" y1="50.80" x2="512.4" y2="50.80" stroke="#4a5c96" stroke-width="1.0" stroke-dasharray="3.8 2.53"/><line x1="266.2" y1="68.80" x2="512.4" y2="68.80" stroke="#5a6cb2" stroke-width="1.15"/><line x1="267.8" y1="87.50" x2="512.4" y2="87.50" stroke="#4a5c96" stroke-width="1.0" stroke-dasharray="3.8 2.53"/><line x1="266.2" y1="106.00" x2="512.4" y2="106.00" stroke="#5a6cb2" stroke-width="1.15"/><line x1="267.8" y1="124.40" x2="512.4" y2="124.40" stroke="#4a5c96" stroke-width="1.0" stroke-dasharray="3.8 2.53"/><line x1="266.2" y1="143.80" x2="512.4" y2="143.80" stroke="#5a6cb2" stroke-width="1.15"/><line x1="267.8" y1="161.30" x2="512.4" y2="161.30" stroke="#4a5c96" stroke-width="1.0" stroke-dasharray="3.8 2.53"/><line x1="266.2" y1="180.00" x2="512.4" y2="180.00" stroke="#5a6cb2" stroke-width="1.15"/><line x1="267.8" y1="197.30" x2="512.4" y2="197.30" stroke="#4a5c96" stroke-width="1.0" stroke-dasharray="3.8 2.53"/><line x1="266.2" y1="216.50" x2="512.4" y2="216.50" stroke="#5a6cb2" stroke-width="1.15"/><line x1="267.8" y1="235.70" x2="512.4" y2="235.70" stroke="#4a5c96" stroke-width="1.0" stroke-dasharray="3.8 2.53"/><line x1="266.2" y1="254.00" x2="512.4" y2="254.00" stroke="#5a6cb2" stroke-width="1.15"/><line x1="267.8" y1="272.40" x2="512.4" y2="272.40" stroke="#4a5c96" stroke-width="1.0" stroke-dasharray="3.8 2.53"/><line x1="266.2" y1="291.20" x2="512.4" y2="291.20" stroke="#5a6cb2" stroke-width="1.15"/><line x1="267.8" y1="310.00" x2="512.4" y2="310.00" stroke="#4a5c96" stroke-width="1.0" stroke-dasharray="3.8 2.53"/><line x1="266.2" y1="328.90" x2="512.4" y2="328.90" stroke="#5a6cb2" stroke-width="1.15"/><line x1="267.8" y1="346.40" x2="512.4" y2="346.40" stroke="#4a5c96" stroke-width="1.0" stroke-dasharray="3.8 2.53"/><line x1="266.2" y1="365.20" x2="512.4" y2="365.20" stroke="#5a6cb2" stroke-width="1.15"/><line x1="267.8" y1="384.40" x2="512.4" y2="384.40" stroke="#4a5c96" stroke-width="1.0" stroke-dasharray="3.8 2.53"/><line x1="266.2" y1="402.00" x2="512.4" y2="402.00" stroke="#5a6cb2" stroke-width="1.15"/><line x1="267.8" y1="421.30" x2="512.4" y2="421.30" stroke="#4a5c96" stroke-width="1.0" stroke-dasharray="3.8 2.53"/><line x1="266.2" y1="439.00" x2="512.4" y2="439.00" stroke="#5a6cb2" stroke-width="1.15"/>
<rect x="264" y="29.8" width="2" height="425.9" fill="#333"/><rect x="264" y="454" width="249" height="1.7" fill="#333"/><rect x="270.90" y="455" width="1" height="3.2" fill="#333"/><rect x="282.84" y="455" width="1" height="3.2" fill="#333"/><rect x="294.78" y="455" width="1" height="3.2" fill="#333"/><rect x="306.72" y="455" width="1" height="3.2" fill="#333"/><rect x="318.66" y="455" width="1" height="3.2" fill="#333"/><rect x="330.60" y="455" width="1" height="3.2" fill="#333"/><rect x="342.54" y="455" width="1" height="3.2" fill="#333"/><rect x="354.48" y="455" width="1" height="3.2" fill="#333"/><rect x="369.10" y="455" width="1" height="3.2" fill="#333"/><rect x="381.10" y="455" width="1" height="3.2" fill="#333"/><rect x="393.10" y="455" width="1" height="3.2" fill="#333"/><rect x="407.70" y="455" width="1" height="3.2" fill="#333"/><rect x="419.69" y="455" width="1" height="3.2" fill="#333"/><rect x="431.68" y="455" width="1" height="3.2" fill="#333"/><rect x="443.67" y="455" width="1" height="3.2" fill="#333"/><rect x="455.66" y="455" width="1" height="3.2" fill="#333"/><rect x="467.65" y="455" width="1" height="3.2" fill="#333"/><rect x="479.64" y="455" width="1" height="3.2" fill="#333"/><rect x="494.10" y="455" width="1" height="3.2" fill="#333"/><rect x="506.10" y="455" width="1" height="3.2" fill="#333"/>
<g font-family="Liberation Sans, sans-serif" font-size="8.2" letter-spacing="1.1" fill="#262626" stroke="#262626" stroke-width="0.2"><text x="272.00" y="29.0" text-anchor="middle">h1</text><text x="283.94" y="29.0" text-anchor="middle">2</text><text x="295.88" y="29.0" text-anchor="middle">3</text><text x="307.82" y="29.0" text-anchor="middle">4</text><text x="319.76" y="29.0" text-anchor="middle">5</text><text x="331.70" y="29.0" text-anchor="middle">6</text><text x="343.64" y="29.0" text-anchor="middle">7</text><text x="355.58" y="29.0" text-anchor="middle">8</text><text x="370.20" y="29.0" text-anchor="middle">9</text><text x="382.20" y="29.0" text-anchor="middle">9'</text><text x="394.20" y="29.0" text-anchor="middle">10</text><text x="408.80" y="29.0" text-anchor="middle">m1</text><text x="420.79" y="29.0" text-anchor="middle">2</text><text x="432.78" y="29.0" text-anchor="middle">3</text><text x="444.77" y="29.0" text-anchor="middle">4</text><text x="456.76" y="29.0" text-anchor="middle">5</text><text x="468.75" y="29.0" text-anchor="middle">6</text><text x="480.74" y="29.0" text-anchor="middle">7</text><text x="495.20" y="29.0" text-anchor="middle">8</text><text x="507.20" y="29.0" text-anchor="middle">9</text></g>
<g font-family="Liberation Sans, sans-serif" font-size="8.5" fill="#262626" stroke="#262626" stroke-width="0.15"><text transform="translate(274.40,461.5) rotate(-90)" text-anchor="end">Bleeding</text><text transform="translate(286.34,461.5) rotate(-90)" text-anchor="end">Thromboph</text><text transform="translate(298.28,461.5) rotate(-90)" text-anchor="end">P-function</text><text transform="translate(310.22,461.5) rotate(-90)" text-anchor="end">P-morph</text><text transform="translate(322.16,461.5) rotate(-90)" text-anchor="end">P-count</text><text transform="translate(334.10,461.5) rotate(-90)" text-anchor="end">Coagul</text><text transform="translate(346.04,461.5) rotate(-90)" text-anchor="end">Erythrocyte</text><text transform="translate(357.98,461.5) rotate(-90)" text-anchor="end">GWAS</text><text transform="translate(372.60,461.5) rotate(-90)" text-anchor="end">P-mRNA</text><text transform="translate(384.60,461.5) rotate(-90)" text-anchor="end">MGK-mRNA</text><text transform="translate(396.60,461.5) rotate(-90)" text-anchor="end">Protein</text><text transform="translate(411.20,461.5) rotate(-90)" text-anchor="end">Bleeding</text><text transform="translate(423.19,461.5) rotate(-90)" text-anchor="end">Thrombos</text><text transform="translate(435.18,461.5) rotate(-90)" text-anchor="end">P-function</text><text transform="translate(447.17,461.5) rotate(-90)" text-anchor="end">P-morph</text><text transform="translate(459.16,461.5) rotate(-90)" text-anchor="end">P-count</text><text transform="translate(471.15,461.5) rotate(-90)" text-anchor="end">Coagul</text><text transform="translate(483.14,461.5) rotate(-90)" text-anchor="end">Erythrocyte</text><text transform="translate(497.60,461.5) rotate(-90)" text-anchor="end">mRNA</text><text transform="translate(509.60,461.5) rotate(-90)" text-anchor="end">Protein</text></g>
<g font-family="Liberation Sans, sans-serif" font-size="8.67" stroke-width="0.16"><text x="7.6" y="42.90" fill="#262626" stroke="#262626">ADGRG1</text><text x="59.6" y="42.90" fill="#262626" stroke="#262626">AKT1</text><text x="110.6" y="42.90" fill="#262626" stroke="#262626">ARHGEF10</text><text x="165.9" y="42.90" fill="#262626" stroke="#262626">ATG7</text><text x="222.8" y="42.90" fill="#262626" stroke="#262626">AXL</text><text x="7.6" y="55.95" fill="#262626" stroke="#262626">B4GALT1</text><text x="59.6" y="55.95" fill="#262626" stroke="#262626">BAX</text><text x="110.6" y="55.95" fill="#262626" stroke="#262626">BLOC1S4</text><text x="165.9" y="55.95" fill="#262626" stroke="#262626">C1GALT1C1</text><text x="222.8" y="55.95" fill="#262626" stroke="#262626">C3</text><text x="7.6" y="80.70" fill="#262626" stroke="#262626">CCL2</text><text x="59.6" y="80.70" fill="#262626" stroke="#262626">CD40LG</text><text x="110.6" y="80.70" fill="#262626" stroke="#262626">CDH1</text><text x="165.9" y="80.70" fill="#262626" stroke="#262626">CEL</text><text x="222.8" y="80.70" fill="#262626" stroke="#262626">CIB1</text><text x="7.6" y="93.75" fill="#262626" stroke="#262626">CSK</text><text x="59.6" y="93.75" fill="#262626" stroke="#262626">DNM2</text><text x="110.6" y="93.75" fill="#262626" stroke="#262626">DOCK7</text><text x="165.9" y="93.75" fill="#262626" stroke="#262626">FLI1</text><text x="222.8" y="93.75" fill="#262626" stroke="#262626">FOXP3</text><text x="7.6" y="118.65" fill="#262626" stroke="#262626">FYN</text><text x="59.6" y="118.65" fill="#262626" stroke="#262626">G6PC1</text><text x="110.6" y="118.65" fill="#262626" stroke="#262626">GATA2</text><text x="165.9" y="118.65" fill="#262626" stroke="#262626">GJA5</text><text x="222.8" y="118.65" fill="#262626" stroke="#262626">GNAI2</text><text x="7.6" y="131.70" fill="#262626" stroke="#262626">GNAQ</text><text x="59.6" y="131.70" fill="#262626" stroke="#262626">GRIA1</text><text x="110.6" y="131.70" fill="#262626" stroke="#262626">GRIN1</text><text x="165.9" y="131.70" fill="#262626" stroke="#262626">ILK</text><text x="222.8" y="131.70" fill="#262626" stroke="#262626">IRGM</text><text x="7.6" y="156.70" fill="#262626" stroke="#262626">ITGB1</text><text x="59.6" y="156.70" fill="#262626" stroke="#262626">KL</text><text x="110.6" y="156.70" fill="#262626" stroke="#262626">MAPK14</text><text x="165.9" y="156.70" fill="#262626" stroke="#262626">MERTK</text><text x="222.8" y="156.70" fill="#262626" stroke="#262626">MFN2</text><text x="7.6" y="169.75" fill="#262626" stroke="#262626">MMP2</text><text x="59.6" y="169.75" fill="#262626" stroke="#262626">NCF1</text><text x="110.6" y="169.75" fill="#262626" stroke="#262626">NLRP3</text><text x="165.9" y="169.75" fill="#262626" stroke="#262626">NR1H4</text><text x="222.8" y="169.75" fill="#262626" stroke="#262626">PANX1</text><text x="7.6" y="194.70" fill="#262626" stroke="#262626">PCSK9</text><text x="59.6" y="194.70" fill="#262626" stroke="#262626">PDPK1</text><text x="110.6" y="194.70" fill="#262626" stroke="#262626">PER2</text><text x="165.9" y="194.70" fill="#262626" stroke="#262626">PFN1</text><text x="222.8" y="194.70" fill="#262626" stroke="#262626">PIK3C2A</text><text x="7.6" y="207.75" fill="#262626" stroke="#262626">PITPNA</text><text x="59.6" y="207.75" fill="#262626" stroke="#262626">PLCG2</text><text x="110.6" y="207.75" fill="#262626" stroke="#262626">PNPLA8</text><text x="165.9" y="207.75" fill="#262626" stroke="#262626">PODXL</text><text x="222.8" y="207.75" fill="#262626" stroke="#262626">PPARA</text><text x="7.6" y="232.70" fill="#262626" stroke="#262626">PRKCD</text><text x="59.6" y="232.70" fill="#262626" stroke="#262626">PRKG1</text><text x="110.6" y="232.70" fill="#262626" stroke="#262626">PTPRC</text><text x="165.9" y="232.70" fill="#262626" stroke="#262626">RAC1</text><text x="222.8" y="232.70" fill="#262626" stroke="#262626">RAP1B</text><text x="7.6" y="245.75" fill="#262626" stroke="#262626">RELN</text><text x="59.6" y="245.75" fill="#262626" stroke="#262626">RHOA</text><text x="110.6" y="245.75" fill="#262626" stroke="#262626">ROBO1</text><text x="165.9" y="245.75" fill="#262626" stroke="#262626">RRAS2</text><text x="222.8" y="245.75" fill="#262626" stroke="#262626">SCUBE1</text><text x="7.6" y="270.50" fill="#262626" stroke="#262626">SERPINH1</text><text x="59.6" y="270.50" fill="#262626" stroke="#262626">SGMS2</text><text x="110.6" y="270.50" fill="#262626" stroke="#262626">SLC2A1</text><text x="165.9" y="270.50" fill="#262626" stroke="#262626">SLC6A4</text><text x="222.8" y="270.50" fill="#262626" stroke="#262626">SRF</text><text x="7.6" y="283.55" fill="#262626" stroke="#262626">SRSF3</text><text x="59.6" y="283.55" fill="#262626" stroke="#262626">SYK</text><text x="110.6" y="283.55" fill="#262626" stroke="#262626">TAL1</text><text x="165.9" y="283.55" fill="#262626" stroke="#262626">TGFB1</text><text x="222.8" y="283.55" fill="#262626" stroke="#262626">THBS1</text><text x="7.6" y="308.50" fill="#262626" stroke="#262626">TMEM163</text><text x="59.6" y="308.50" fill="#262626" stroke="#262626">TP53</text><text x="110.6" y="308.50" fill="#262626" stroke="#262626">TREML1</text><text x="165.9" y="308.50" fill="#262626" stroke="#262626">TRPC6</text><text x="222.8" y="308.50" fill="#262626" stroke="#262626">TYMP</text><text x="7.6" y="321.55" fill="#262626" stroke="#262626">UROS</text><text x="59.6" y="321.55" fill="#262626" stroke="#262626">VIM</text><text x="110.6" y="321.55" fill="#262626" stroke="#262626">WDR1</text><text x="165.9" y="321.55" fill="#35597f" stroke="#35597f">AP3B1</text><text x="222.8" y="321.55" fill="#35597f" stroke="#35597f">AP3D1</text><text x="7.6" y="346.30" fill="#35597f" stroke="#35597f">BLOC1S5</text><text x="59.6" y="346.30" fill="#35597f" stroke="#35597f">BLOC1S6</text><text x="110.6" y="346.30" fill="#35597f" stroke="#35597f">CD36</text><text x="165.9" y="346.30" fill="#35597f" stroke="#35597f">DTNBP1</text><text x="222.8" y="346.30" fill="#35597f" stroke="#35597f">ENG</text><text x="7.6" y="359.35" fill="#35597f" stroke="#35597f">F2RL3</text><text x="59.6" y="359.35" fill="#35597f" stroke="#35597f">FERMT3</text><text x="110.6" y="359.35" fill="#35597f" stroke="#35597f">FLI1</text><text x="165.9" y="359.35" fill="#35597f" stroke="#35597f">FLNA</text><text x="222.8" y="359.35" fill="#35597f" stroke="#35597f">GATA1</text><text x="7.6" y="384.20" fill="#35597f" stroke="#35597f">HPS1</text><text x="59.6" y="384.20" fill="#35597f" stroke="#35597f">HPS3</text><text x="110.6" y="384.20" fill="#35597f" stroke="#35597f">HPS4</text><text x="165.9" y="384.20" fill="#35597f" stroke="#35597f">HPS5</text><text x="222.8" y="384.20" fill="#35597f" stroke="#35597f">HPS6</text><text x="7.6" y="397.25" fill="#35597f" stroke="#35597f">ITGA2</text><text x="59.6" y="397.25" fill="#35597f" stroke="#35597f">JAK2</text><text x="110.6" y="397.25" fill="#35597f" stroke="#35597f">LYST</text><text x="165.9" y="397.25" fill="#35597f" stroke="#35597f">MRTFA</text><text x="222.8" y="397.25" fill="#35597f" stroke="#35597f">MYH9</text><text x="7.6" y="422.20" fill="#35597f" stroke="#35597f">ORAI1</text><text x="59.6" y="422.20" fill="#35597f" stroke="#35597f">PLA2G4A</text><text x="110.6" y="422.20" fill="#35597f" stroke="#35597f">PTPRJ</text><text x="165.9" y="422.20" fill="#35597f" stroke="#35597f">RAB27A</text><text x="222.8" y="422.20" fill="#35597f" stroke="#35597f">RAP1B</text><text x="7.6" y="435.25" fill="#35597f" stroke="#35597f">RBM8A</text><text x="59.6" y="435.25" fill="#35597f" stroke="#35597f">RUNX1</text><text x="110.6" y="435.25" fill="#35597f" stroke="#35597f">SH2B3</text><text x="165.9" y="435.25" fill="#35597f" stroke="#35597f">SMAD4</text><text x="222.8" y="435.25" fill="#35597f" stroke="#35597f">STIM1</text><text x="7.6" y="459.20" fill="#35597f" stroke="#35597f">TBXAS1</text><text x="59.6" y="459.20" fill="#35597f" stroke="#35597f">TRPM7</text><text x="110.6" y="459.20" fill="#35597f" stroke="#35597f">UNC13D</text><text x="165.9" y="459.20" fill="#35597f" stroke="#35597f">VPS33B</text></g>
<line x1="132" y1="493" x2="223" y2="493" stroke="#cfcfcf" stroke-width="1"/><rect x="143" y="485.2" width="18.8" height="17.5" fill="#fcefe7"/><rect x="161.8" y="485.6" width="19.1" height="5.8" fill="#f0a47e"/><rect x="161.8" y="495.2" width="19.1" height="5.8" fill="#eea27c"/><rect x="180.8" y="485.6" width="19.1" height="5.8" fill="#bd6c3d"/><rect x="180.8" y="495.2" width="19.1" height="5.8" fill="#bb6a3c"/><rect x="199.9" y="485.6" width="19.1" height="5.8" fill="#8c3d12"/><rect x="199.9" y="495.2" width="19.1" height="5.8" fill="#8b3b12"/>
<g font-family="Liberation Sans, sans-serif" font-size="8.6" fill="#262626" stroke="#262626" stroke-width="0.15"><text x="71" y="480.4">Protein copies</text><text x="71" y="514.8">mRNA (log2+1)</text><text x="146.5" y="480.3">10<tspan dy="-3.4" font-size="5.8">0</tspan></text><text x="165.3" y="480.3">10<tspan dy="-3.4" font-size="5.8">1</tspan></text><text x="183.8" y="480.3">10<tspan dy="-3.4" font-size="5.8">2</tspan></text><text x="202.9" y="480.3">10<tspan dy="-3.4" font-size="5.8">3</tspan></text><text x="152" y="514.8" text-anchor="middle" fill="#777" stroke="#777">&lt;</text><text x="171.2" y="514.8" text-anchor="middle">0.03</text><text x="190.1" y="514.8" text-anchor="middle">0.3</text><text x="208.9" y="514.8" text-anchor="middle">3</text></g>
<line x1="408.3" y1="503.3" x2="408.3" y2="513.7" stroke="#2c4260" stroke-width="1.1"/><path d="M408.3 499.3 L405.90000000000003 505.3 L410.7 505.3 Z" fill="#2c4260"/><line x1="432.2" y1="508.0" x2="432.2" y2="518.4" stroke="#2c4260" stroke-width="1.1"/><path d="M432.2 504.0 L429.8 510.0 L434.59999999999997 510.0 Z" fill="#2c4260"/>
<text x="8.6" y="17" font-family="Liberation Sans, sans-serif" font-style="italic" font-size="10.4" fill="#2a2a2a" stroke="#2a2a2a" stroke-width="0.2">Mouse bleeding &amp; platelet dysfunction − syndromic</text>
<rect x="0.5" y="0.5" width="519" height="525" fill="none" stroke="#3a3a3a" stroke-width="1"/>
</svg></body></html>
